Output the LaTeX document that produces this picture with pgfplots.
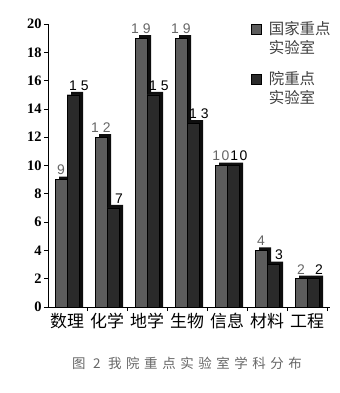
\documentclass[border=0pt]{standalone}
\usepackage{pgfplots}
\pgfplotsset{compat=1.18}
\usepackage{fontspec}
\setmainfont{Liberation Serif}
\setsansfont{Liberation Sans}
\newfontfamily\cjk{Noto Sans CJK SC}
\newfontfamily\capfont[LetterSpace=34]{Noto Sans CJK SC}
\definecolor{sA}{HTML}{5C5C5C}
\definecolor{sB}{HTML}{2A2A2A}
\definecolor{side}{HTML}{0E0E0E}
\begin{document}
\begin{tikzpicture}[x=1bp,y=1bp]
\useasboundingbox (0,0) rectangle (340,393);
\begin{axis}[at={(48bp,86bp)}, anchor=south west, scale only axis,
 width=282bp, height=283bp,
 ymin=0, ymax=20, xmin=-0.475, xmax=6.575,
 axis lines*=left, ybar=0pt, bar width=12bp,
 axis line style={line width=0.8bp},
 ytick={0,2,...,20}, xtick={0,...,6},
 xticklabels={数理,化学,地学,生物,信息,材料,工程},
 xticklabel style={font=\cjk\fontsize{17}{17}\selectfont, yshift=1bp},
 yticklabel style={font=\fontsize{14.5}{14.5}\selectfont\bfseries, xshift=1bp},
 /pgf/number format/assume math mode=true,
 major x tick style={draw=none}, minor xtick={0.5,1.5,...,6.5},
 tick align=outside, major tick length=4bp, minor tick length=4bp,
 tick style={black, line width=0.6bp},
 legend style={at={(0.71,1.025)}, anchor=north west, draw=none, fill=none,
   font=\cjk\fontsize{15.5}{19}\selectfont, text=black!75,
   cells={anchor=west, align=flush left},
   row sep=13bp},
]
% series 1 depth
\addplot[fill=side, draw=none, bar shift=-2bp, y filter/.expression={y+0.21}, forget plot]
 coordinates {(0,9) (1,12) (2,19) (3,19) (4,10) (5,4) (6,2)};
% series 1 front
\addplot[fill=sA, draw=black, line width=0.4bp, bar shift=-6bp,
 legend image code/.code={\draw[fill=sA,draw=black] (0bp,4bp) rectangle (10bp,14bp);},
 nodes near coords, point meta=explicit symbolic,
 every node near coord/.append style={font=\sffamily\fontsize{14}{14}\selectfont, text=black!60, yshift=1bp}]
 coordinates {(0,9) [9] (1,12) [1\hspace{4bp}2] (2,19) [1\hspace{4bp}9] (3,19) [1\hspace{4bp}9] (4,10) [1\hspace{1.5bp}0] (5,4) [4] (6,2) [2]};
\addlegendentry{\hspace{5bp}国家重点\\\hspace{5bp}实验室}
% series 2 depth
\addplot[fill=side, draw=none, bar shift=10bp, y filter/.expression={y+0.21}, forget plot]
 coordinates {(0,15) (1,7) (2,15) (3,13) (4,10) (5,3) (6,2)};
% series 2 front
\addplot[fill=sB, draw=black, line width=0.4bp, bar shift=6bp,
 legend image code/.code={\draw[fill=sB,draw=black] (0bp,4bp) rectangle (10bp,14bp);},
 nodes near coords, point meta=explicit symbolic,
 every node near coord/.append style={font=\sffamily\fontsize{14}{14}\selectfont, text=black, yshift=1bp, xshift=6bp}]
 coordinates {(0,15) [1\hspace{4bp}5] (1,7) [7] (2,15) [1\hspace{4bp}5] (3,13) [1\hspace{4bp}3] (4,10) [1\hspace{1.5bp}0] (5,3) [3] (6,2) [2]};
\addlegendentry{\hspace{5bp}院重点\\\hspace{5bp}实验室}
\end{axis}
\node[font=\capfont\fontsize{13.5}{14}\selectfont, text=black!60] at (187,30) {图 2 我院重点实验室学科分布};
\end{tikzpicture}
\end{document}
